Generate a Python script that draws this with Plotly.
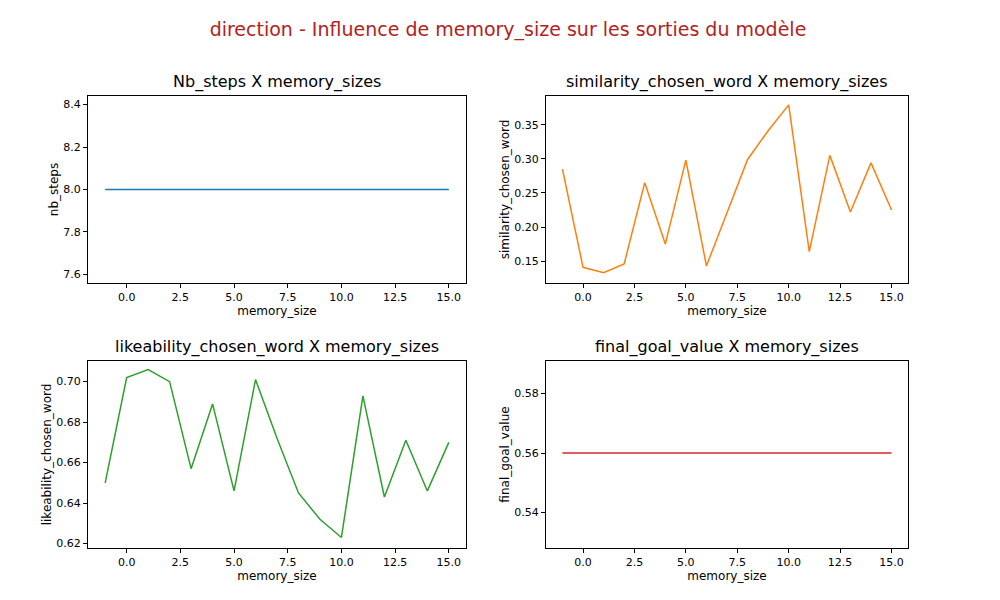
import plotly.graph_objects as go
from plotly.subplots import make_subplots

memory_sizes = list(range(-1, 16))
nb_steps = [8] * 17
similarity = [0.285, 0.141, 0.133, 0.146, 0.265, 0.175, 0.298, 0.143, 0.221, 0.299,
              0.341, 0.379, 0.164, 0.305, 0.222, 0.294, 0.225]
likeability = [0.650, 0.702, 0.706, 0.700, 0.657, 0.689, 0.646, 0.701, 0.672, 0.645,
               0.632, 0.623, 0.693, 0.643, 0.671, 0.646, 0.670]
final_goal = [0.56] * 17

titles = ["Nb_steps X memory_sizes", "similarity_chosen_word X memory_sizes",
          "likeability_chosen_word X memory_sizes", "final_goal_value X memory_sizes"]
ylabels = ["nb_steps", "similarity_chosen_word", "likeability_chosen_word", "final_goal_value"]
series = [nb_steps, similarity, likeability, final_goal]
colors = ["#1f77b4", "#ff7f0e", "#2ca02c", "#d62728"]

fig = make_subplots(rows=2, cols=2, subplot_titles=titles)
for i, (ys, c) in enumerate(zip(series, colors)):
    fig.add_trace(go.Scatter(x=memory_sizes, y=ys, mode="lines",
                             line=dict(color=c, width=1.5), showlegend=False),
                  row=i // 2 + 1, col=i % 2 + 1)

xdom = [[0.08, 0.458], [0.538, 0.9]]
ydom = [[0.5417, 0.8533], [0.1, 0.4117]]
yranges = [[7.56, 8.44], [0.118, 0.392], [0.6178, 0.7102], [0.528, 0.591]]
ticks = [[7.6, 7.8, 8.0, 8.2, 8.4], [0.15, 0.20, 0.25, 0.30, 0.35],
         [0.62, 0.64, 0.66, 0.68, 0.70], [0.54, 0.56, 0.58]]
fmts = [".1f", ".2f", ".2f", ".2f"]
ax = dict(showline=True, linecolor="black", mirror=True, ticks="outside",
          showgrid=False, zeroline=False, tickcolor="black", ticklen=4,
          automargin=False, tickfont=dict(size=11))
for i in range(4):
    r, c = i // 2, i % 2
    n = "" if i == 0 else str(i + 1)
    fig.layout["xaxis" + n].update(domain=xdom[c], range=[-1.8, 15.8],
                                   tickvals=[0, 2.5, 5, 7.5, 10, 12.5, 15],
                                   ticktext=["0.0", "2.5", "5.0", "7.5", "10.0", "12.5", "15.0"],
                                   title=dict(text="memory_size", standoff=2, font=dict(size=12)), **ax)
    fig.layout["yaxis" + n].update(domain=ydom[r], range=yranges[i], tickvals=ticks[i],
                                   tickformat=fmts[i], title=dict(text=ylabels[i], standoff=2, font=dict(size=12)), **ax)
    ann = fig.layout.annotations[i]
    ann.update(x=sum(xdom[c]) / 2, y=ydom[r][1], yanchor="bottom", yshift=2,
               font=dict(size=16, color="black"))

fig.update_layout(
    width=1000, height=600, plot_bgcolor="white", paper_bgcolor="white",
    margin=dict(l=0, r=0, t=0, b=0, autoexpand=False),
    font=dict(family="DejaVu Sans", size=12, color="black"),
    title=dict(text="direction - Influence de memory_size sur les sorties du modèle",
               x=0.5, xanchor="center", y=0.965, yanchor="middle", automargin=False,
               font=dict(size=19, color="#b22222")),
)
fig.write_html("out.html")
